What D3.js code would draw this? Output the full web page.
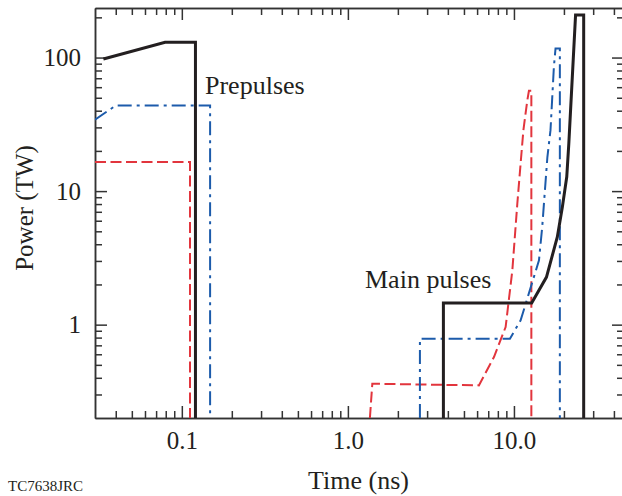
<!DOCTYPE html>
<html>
<head>
<meta charset="utf-8">
<script src="https://cdn.jsdelivr.net/npm/d3@7"></script>
<style>
  body { margin: 0; background: #fff; }
  svg { display: block; }
  text { font-family: "Liberation Serif", "Times New Roman", serif; fill: #231f20; }
  .axis path, .axis line { stroke: #333; stroke-width: 1.5; }
</style>
</head>
<body>
<div id="chart"></div>
<script>
// values (time in ns, power in TW); null breaks a line
const blackTime  = [0.0337, 0.0793, 0.1208, 0.1208, null, 3.76, 3.76, 12.79, 15.7, 18.25, 19.57, 20.8, 21.4, 23.5, 26.3, 26.3];
const blackPower = [97.6, 130, 130, 0.2, null, 0.2, 1.45, 1.45, 2.27, 4.54, 7.61, 12.8, 22.7, 208, 208, 0.2];

const blueTime  = [0.03, 0.04, 0.148, 0.148, null, 2.715, 2.715, 9.46, 10.97, 14.15, 14.8, 15.9, 16.6, 17.4, 17.8, 18.9, 18.9];
const bluePower = [34.3, 43.7, 43.7, 0.2, null, 0.2, 0.785, 0.785, 1.077, 3.03, 5.39, 18.0, 28.6, 85.3, 117, 117, 0.2];

const redTime  = [0.03, 0.112, 0.112, null, 1.357, 1.403, 6.15, 7.58, 8.91, 9.78, 10.48, 10.97, 11.4, 12.04, 12.31, 12.73, 12.73];
const redPower = [16.5, 16.5, 0.2, null, 0.2, 0.361, 0.351, 0.572, 0.96, 2.55, 8.07, 16.1, 28.6, 48.0, 56.4, 56.4, 0.2];

const xMajor = [0.1, 1, 10];
const xMajorLabels = ["0.1", "1.0", "10.0"];
const xMinor = [0.04, 0.05, 0.06, 0.07, 0.08, 0.09, 0.2, 0.3, 0.4, 0.5, 0.6, 0.7, 0.8, 0.9,
                2, 3, 4, 5, 6, 7, 8, 9, 20, 30, 40];
const yMajor = [1, 10, 100];
const yMajorLabels = ["1", "10", "100"];
const yMinor = [0.3, 0.4, 0.5, 0.6, 0.7, 0.8, 0.9, 2, 3, 4, 5, 6, 7, 8, 9,
                20, 30, 40, 50, 60, 70, 80, 90, 200];

const width = 622;
const height = 496;
const plot = { left: 95, right: 624, top: 8, bottom: 418 };

const svg = d3.select("#chart")
    .append("svg")
    .attr("width", width)
    .attr("height", height);

const x = d3.scaleLog().domain([0.03, 46]).range([plot.left, plot.right]);
const y = d3.scaleLog().domain([0.2, 235]).range([plot.bottom, plot.top]);

svg.append("defs").append("clipPath").attr("id", "clip")
    .append("rect")
    .attr("x", plot.left).attr("y", plot.top)
    .attr("width", plot.right - plot.left).attr("height", plot.bottom - plot.top);

// axes: ticks point inward on all four sides
function addAxis(axisFn, scale, values, size, labels, transform, padding) {
    const g = svg.append("g")
        .attr("class", "axis")
        .attr("transform", transform)
        .call(axisFn(scale)
            .tickValues(values)
            .tickSize(-size)
            .tickSizeOuter(0)
            .tickPadding(padding || 3)
            .tickFormat((d, i) => labels ? labels[i] : ""));
    g.selectAll("text").style("font-size", "25px").attr("fill", "#231f20");
    return g;
}

addAxis(d3.axisBottom, x, xMinor, 7, null, `translate(0,${plot.bottom})`);
addAxis(d3.axisBottom, x, xMajor, 12, xMajorLabels, `translate(0,${plot.bottom})`, 13);
addAxis(d3.axisTop, x, xMinor, 7, null, `translate(0,${plot.top})`);
addAxis(d3.axisTop, x, xMajor, 12, null, `translate(0,${plot.top})`);
addAxis(d3.axisLeft, y, yMinor, 7, null, `translate(${plot.left},0)`);
addAxis(d3.axisLeft, y, yMajor, 12, yMajorLabels, `translate(${plot.left},0)`, 14);
addAxis(d3.axisRight, y, yMinor, 7, null, `translate(${plot.right},0)`);
addAxis(d3.axisRight, y, yMajor, 12, null, `translate(${plot.right},0)`);

const line = d3.line()
    .defined(d => d[0] !== null)
    .x(d => x(d[0]))
    .y(d => y(d[1]));

const series = [
    { t: redTime, p: redPower, color: "#e2353d", dash: "11,4.5", w: 2 },
    { t: blueTime, p: bluePower, color: "#1c5bab", dash: "14,5,3,5", w: 2 },
    { t: blackTime, p: blackPower, color: "#231f20", dash: null, w: 3 }
];

svg.append("g")
    .attr("clip-path", "url(#clip)")
    .selectAll("path")
    .data(series)
    .enter()
    .append("path")
    .attr("d", s => line(s.t.map((t, i) => [t, s.p[i]])))
    .attr("fill", "none")
    .attr("stroke", s => s.color)
    .attr("stroke-width", s => s.w)
    .attr("stroke-dasharray", s => s.dash)
    .attr("stroke-linejoin", "miter");

svg.append("text")
    .attr("x", 205).attr("y", 94)
    .style("font-size", "26px")
    .text("Prepulses");

svg.append("text")
    .attr("x", 365).attr("y", 288)
    .style("font-size", "26px")
    .text("Main pulses");

svg.append("text")
    .attr("x", (plot.left + plot.right) / 2 - 1)
    .attr("y", 489)
    .style("text-anchor", "middle")
    .style("font-size", "26px")
    .text("Time (ns)");

svg.append("text")
    .attr("transform", "rotate(-90)")
    .attr("x", -208)
    .attr("y", 33)
    .style("text-anchor", "middle")
    .style("font-size", "25px")
    .text("Power (TW)");

svg.append("text")
    .attr("x", 8).attr("y", 491)
    .style("font-size", "15px")
    .text("TC7638JRC");
</script>
</body>
</html>
